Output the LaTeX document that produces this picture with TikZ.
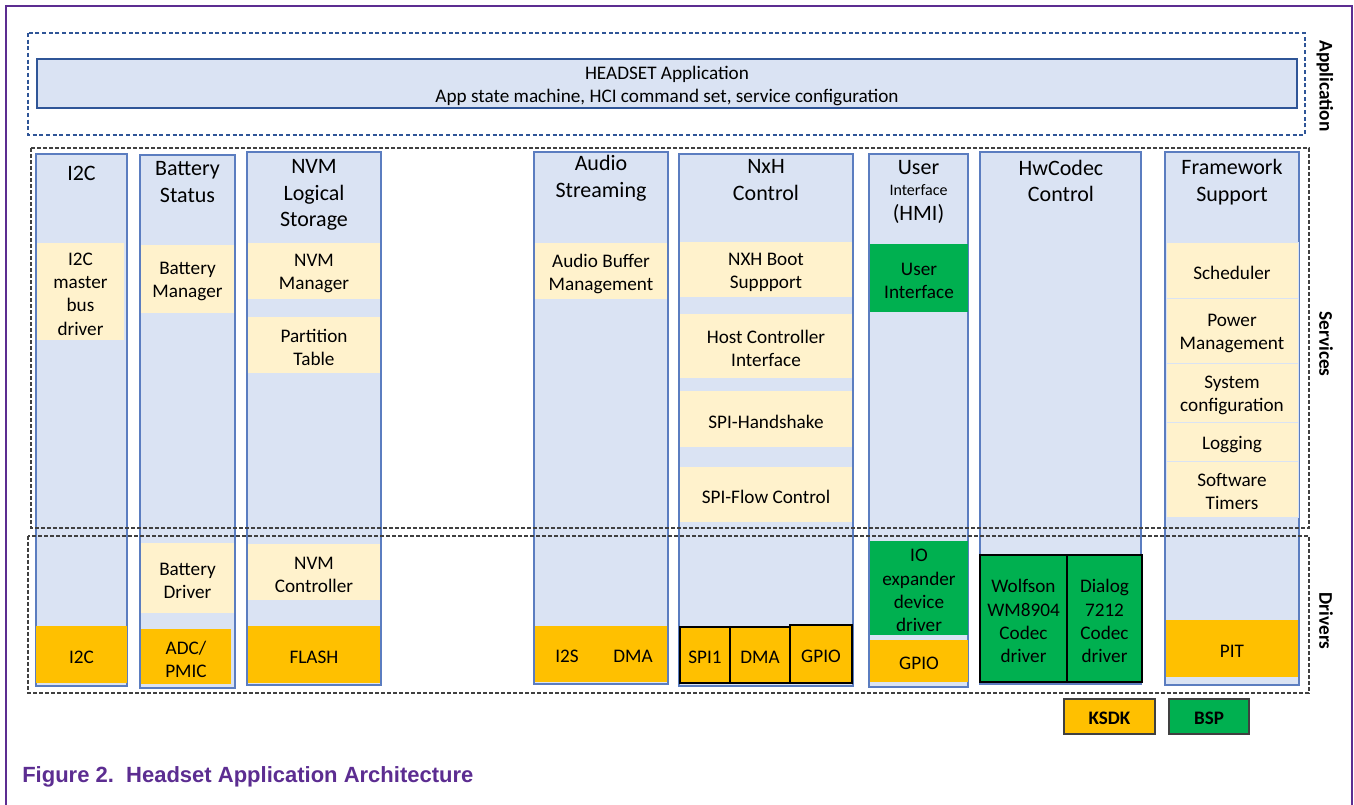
\documentclass[tikz,border=0pt]{standalone}
\usepackage{fontspec}
\setmainfont{Carlito}
\newfontfamily\capfont{Liberation Sans}
\usetikzlibrary{fit}
\definecolor{colfill}{HTML}{DAE3F3}
\definecolor{colline}{HTML}{5B7DC0}
\definecolor{svcfill}{HTML}{FFF2CC}
\definecolor{ksdk}{HTML}{FFC000}
\definecolor{bsp}{HTML}{00B050}
\definecolor{nxppurple}{HTML}{5C2D91}
\definecolor{appline}{HTML}{2F5597}
\definecolor{zoneline}{HTML}{404040}
\newcommand\hstitle{\fontsize{16.5}{20}\selectfont}
\newcommand\hsinner{\fontsize{14.4}{17.5}\selectfont}
\newcommand\hssmall{\fontsize{12}{14}\selectfont}
\newcommand\hsside{\fontsize{14.5}{17}\selectfont\bfseries}
\newcommand\hscap{\capfont\bfseries\fontsize{16.5}{20}\selectfont}
% box with centred text: style, fit points, name, text
\newcommand\hsbox[4]{\node[#1,fit={#2}] (#3) {}; \node[boxtext] (#3t) at (#3.center) {#4};}
\begin{document}
\begin{tikzpicture}[x=0.75pt,y=-0.75pt,
  frame/.style={draw=nxppurple,line width=2.2pt},
  appzone/.style={draw=appline,line width=0.8pt,dash pattern=on 3pt off 2pt},
  zone/.style={draw=zoneline,line width=0.8pt,dash pattern=on 3pt off 1.5pt},
  colbox/.style={fill=colfill,draw=colline,line width=0.9pt,inner sep=0pt},
  appbox/.style={fill=colfill,draw=appline,line width=1.1pt,inner sep=0pt},
  svc/.style={fill=svcfill,inner sep=0pt},
  fw/.style={svc,draw=colfill,line width=0.6pt},
  kbox/.style={fill=ksdk,inner sep=0pt},
  gbox/.style={fill=bsp,inner sep=0pt},
  edged/.style={draw=black,line width=0.9pt},
  boxtext/.style={font=\hsinner,align=center,inner sep=0pt,yshift=-2pt},
  coltitle/.style={font=\hstitle,align=center,inner sep=0pt},
  side/.style={font=\hsside,rotate=-90,inner sep=0pt},
  legend/.style={draw=zoneline,line width=1pt,inner sep=0pt},
  legendtext/.style={font=\fontsize{14.3}{17}\selectfont\bfseries,inner sep=0pt,yshift=-1.5pt}
]
\useasboundingbox (0,0) rectangle (1354,805);
\fill[white] (0,0) rectangle (1354,805);
\draw[frame] (6,805) -- (6,6) -- (1352,6) -- (1352,805);

% Application layer
\draw[appzone] (28,33) rectangle (1305,135);
\hsbox{appbox}{(37,59)(1297,108)}{app}{HEADSET Application\\App state machine, HCI command set, service configuration}

% Columns
\node[colbox,fit={(36,154)(127,686)}] (c1) {};
\node[colbox,fit={(140,155)(235,688)}] (c2) {};
\node[colbox,fit={(247,152)(381,685)}] (c3) {};
\node[colbox,fit={(534,152)(668,684)}] (c4) {};
\node[colbox,fit={(679,154)(853,686)}] (c5) {};
\node[colbox,fit={(869,154)(968,687)}] (c6) {};
\node[colbox,fit={(980,152)(1141,684)}] (c7) {};
\node[colbox,fit={(1165,152)(1299,685)}] (c8) {};

% Zones
\draw[zone] (31,148) rectangle (1309,528);
\draw[zone] (28,536) rectangle (1309,693);

% Column titles
\node[coltitle] (t1) at (81.5,173) {I2C};
\node[coltitle] (t2) at (187.5,182) {Battery\\Status};
\node[coltitle] (t3) at (314,195) {NVM\\Logical\\Storage};
\node[coltitle] (t4) at (601,178) {Audio\\Streaming};
\node[coltitle] (t5) at (766,180) {NxH\\Control};
\node[coltitle] (t6a) at (918.5,168) {User};
\node[coltitle,font=\hssmall] (t6b) at (918.5,190) {Interface};
\node[coltitle] (t6c) at (918.5,214) {(HMI)};
\node[coltitle] (t7) at (1061,181) {HwCodec\\Control};
\node[coltitle] (t8) at (1232,182) {Framework\\Support};

% Service boxes
\hsbox{svc}{(37,243)(124,340)}{s1}{I2C\\master\\bus\\driver}
\hsbox{svc}{(141,245)(234,313)}{s2a}{Battery\\Manager}
\hsbox{svc}{(141,543)(234,613)}{s2b}{Battery\\Driver}
\hsbox{svc}{(248,243)(380,299)}{s3a}{NVM\\Manager}
\hsbox{svc}{(248,317)(380,373)}{s3b}{Partition\\Table}
\hsbox{svc}{(248,544)(380,600)}{s3c}{NVM\\Controller}
\hsbox{svc}{(535,243)(667,299)}{s4}{Audio Buffer\\Management}
\hsbox{svc}{(680,242)(852,297)}{s5a}{NXH Boot\\Suppport}
\hsbox{svc}{(680,314)(852,378)}{s5b}{Host Controller\\Interface}
\hsbox{svc}{(680,391)(852,447)}{s5c}{SPI-Handshake}
\hsbox{svc}{(680,467)(852,522)}{s5d}{SPI-Flow Control}
\hsbox{fw}{(1166,242)(1298,298)}{s8a}{Scheduler}
\hsbox{fw}{(1166,298)(1298,363)}{s8b}{Power\\Management}
\hsbox{fw}{(1166,363)(1298,422)}{s8c}{System\\configuration}
\hsbox{fw}{(1166,422)(1298,461)}{s8d}{Logging}
\hsbox{fw}{(1166,461)(1298,517)}{s8e}{Software\\Timers}

% BSP (green) boxes
\hsbox{gbox}{(870,244)(968,312)}{g6a}{User\\Interface}
\hsbox{gbox}{(870,541)(968,635)}{g6b}{IO\\expander\\device\\driver}
\hsbox{gbox,edged}{(980,555)(1067,682)}{g7a}{Wolfson\\WM8904\\Codec\\driver}
\hsbox{gbox,edged}{(1067,555)(1142,682)}{g7b}{Dialog\\7212\\Codec\\driver}

% KSDK (orange) boxes
\hsbox{kbox}{(36,626)(127,683)}{o1}{I2C}
\hsbox{kbox}{(141,629)(231,684)}{o2}{ADC/\\PMIC}
\hsbox{kbox}{(248,626)(380,683)}{o3}{FLASH}
\node[kbox,fit={(535,626)(667,682)}] (o4) {};
\node[boxtext] (o4a) at (567,654) {I2S};
\node[boxtext] (o4b) at (633,654) {DMA};
\hsbox{kbox,edged}{(680,627)(730,683)}{o5a}{SPI1}
\hsbox{kbox,edged}{(730,627)(790,683)}{o5b}{DMA}
\hsbox{kbox,edged}{(790,625)(852,683)}{o5c}{GPIO}
\hsbox{kbox}{(870,640)(968,682)}{o6}{GPIO}
\hsbox{kbox}{(1166,620)(1298,677)}{o8}{PIT}

% Legend
\node[legend,fill=ksdk,fit={(1064,699)(1155,734)}] (lk) {};
\node[legendtext] (lkt) at (lk.center) {KSDK};
\node[legend,fill=bsp,fit={(1169,699)(1249,734)}] (lb) {};
\node[legendtext] (lbt) at (lb.center) {BSP};

% Side labels
\node[side] (la) at (1325,86) {Application};
\node[side] (ls) at (1326,344) {Services};
\node[side] (ld) at (1326,621) {Drivers};

% Caption
\node[anchor=base west,inner sep=0pt,font=\hscap,text=nxppurple] (cap) at (22,782) {Figure 2.\ \ Headset Application Architecture};
\end{tikzpicture}
\end{document}
